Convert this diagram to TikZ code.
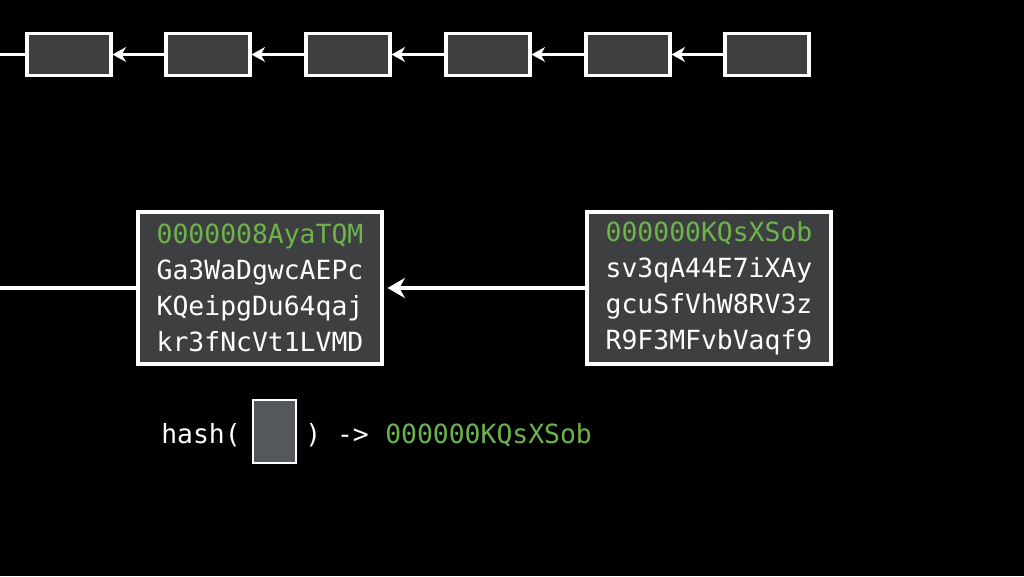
\documentclass[tikz,border=0pt]{standalone}
\usepackage{fontspec}
\newfontfamily\monofont{DejaVu Sans Mono}
\usetikzlibrary{arrows.meta}
\definecolor{hashgreen}{HTML}{6DB54B}
\definecolor{blockfill}{HTML}{3E3F41}
\definecolor{smallfill}{HTML}{54575C}
\tikzset{
  chainblock/.style={draw=white, line width=2.3pt, fill=blockfill, minimum width=63pt, minimum height=32pt, inner sep=0pt},
  bigblock/.style={draw=white, line width=2.3pt, fill=blockfill, minimum width=183pt, minimum height=114pt, inner sep=0pt, align=left, text=white, font=\monofont\fontsize{19.8pt}{27pt}\selectfont},
  link/.style={draw=white, line width=2.3pt},
  smallarrow/.style={link, -{Stealth[length=10pt, width=11pt, inset=3pt]}},
  bigarrow/.style={link, -{Stealth[length=13pt, width=15pt, inset=4pt]}},
  codetext/.style={text=white, inner sep=0pt, anchor=base west, font=\monofont\fontsize{19.8pt}{27pt}\selectfont},
}
\begin{document}
\begin{tikzpicture}[x=0.75pt, y=-0.75pt]
\fill[black] (0,0) rectangle (1024,576);
\useasboundingbox (0,0) rectangle (1024,576);
% top chain
\coordinate (tstart) at (0,54.5);
\node[chainblock] (t1) at (69,54.5) {};
\node[chainblock] (t2) at (208,54.5) {};
\node[chainblock] (t3) at (348,54.5) {};
\node[chainblock] (t4) at (488,54.5) {};
\node[chainblock] (t5) at (628,54.5) {};
\node[chainblock] (t6) at (767,54.5) {};
\draw[link] (tstart) -- (t1.west);
\draw[smallarrow] (t2.west) -- (t1.east);
\draw[smallarrow] (t3.west) -- (t2.east);
\draw[smallarrow] (t4.west) -- (t3.east);
\draw[smallarrow] (t5.west) -- (t4.east);
\draw[smallarrow] (t6.west) -- (t5.east);
% middle blocks
\coordinate (mstart) at (0,288);
\node[bigblock] (m1) at (260,288) {\textcolor{hashgreen}{0000008AyaTQM}\\Ga3WaDgwcAEPc\\KQeipgDu64qaj\\kr3fNcVt1LVMD};
\node[bigblock] (m2) at (709,288) {\textcolor{hashgreen}{000000KQsXSob}\\sv3qA44E7iXAy\\gcuSfVhW8RV3z\\R9F3MFvbVaqf9};
\draw[link] (mstart) -- (m1.west);
\draw[bigarrow] (m2.west) -- ([xshift=3pt]m1.east);
% hash line
\node[codetext] (hopen) at (161,443) {hash(};
\node[draw=white, line width=1.5pt, fill=smallfill, minimum width=32pt, minimum height=47pt, inner sep=0pt] (hbox) at (274.5,431.5) {};
\node[codetext] (hclose) at (305,443) {) ->};
\node[codetext, text=hashgreen] (hres) at (385,443) {000000KQsXSob};
\end{tikzpicture}
\end{document}
